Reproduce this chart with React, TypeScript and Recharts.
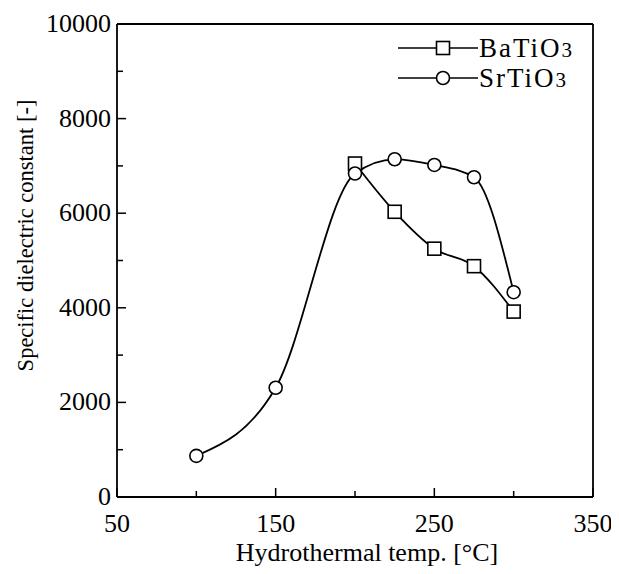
import React from 'react';
import { LineChart, Line, XAxis, YAxis, ReferenceLine } from 'recharts';

// Hydrothermal temperatures [°C]
const temps = [100, 150, 200, 225, 250, 275, 300];
// SrTiO3 dielectric constant, one per temperature
const srValues = [870, 2310, 6840, 7140, 7020, 6760, 4330];
// BaTiO3 only measured from 200 °C up
const baTemps = [200, 225, 250, 275, 300];
const baValues = [7050, 6030, 5250, 4880, 3920];

const xTicks = [50, 100, 150, 200, 250, 300, 350];
const xLabeled = [50, 150, 250, 350];
const yTicks = [0, 1000, 2000, 3000, 4000, 5000, 6000, 7000, 8000, 9000, 10000];

const series = [
  { key: 'ba', name: 'BaTiO', sub: '3', marker: 'square' },
  { key: 'sr', name: 'SrTiO', sub: '3', marker: 'circle' },
];

const data = temps.map((t, i) => {
  const bi = baTemps.indexOf(t);
  return { t, sr: srValues[i], ba: bi >= 0 ? baValues[bi] : null };
});

const FONT = '"Liberation Serif", "DejaVu Serif", serif';
const INK = '#000';

const XTick = ({ x, y, payload }: any) => {
  const major = xLabeled.includes(payload.value);
  return (
    <g>
      <line x1={x} y1={y} x2={x} y2={y - (major ? 9 : 6)} stroke={INK} strokeWidth={1.5} />
      {major && (
        <text x={x} y={y + 35} textAnchor="middle" fontFamily={FONT} fontSize={26} fill={INK}>
          {payload.value}
        </text>
      )}
    </g>
  );
};

const YTick = ({ x, y, payload }: any) => {
  const major = payload.value % 2000 === 0;
  return (
    <g>
      <line x1={x} y1={y} x2={x + (major ? 9 : 6)} y2={y} stroke={INK} strokeWidth={1.5} />
      {major && (
        <text x={x - 6} y={y + 8} textAnchor="end" fontFamily={FONT} fontSize={26} fill={INK}>
          {payload.value}
        </text>
      )}
    </g>
  );
};

const SquareDot = ({ cx, cy, index }: any) => {
  if (cy == null || cx == null) return <g key={`sq-${index}`} />;
  return (
    <rect key={`sq-${index}`} x={cx - 6.5} y={cy - 6.5} width={13} height={13} fill="#fff" stroke={INK} strokeWidth={1.6} />
  );
};

const YLabel = ({ viewBox }: any) => {
  const cx = viewBox.x + 25;
  const cy = viewBox.y + viewBox.height / 2 - 25;
  return (
    <text x={cx} y={cy} transform={`rotate(-90 ${cx} ${cy})`} textAnchor="middle" dominantBaseline="central" fontFamily={FONT} fontSize={22.5} fill={INK}>
      Specific dielectric constant [-]
    </text>
  );
};

const XLabel = ({ viewBox }: any) => {
  const cx = viewBox.x + viewBox.width / 2 + 12;
  const cy = viewBox.y + 64;
  return (
    <text x={cx} y={cy} textAnchor="middle" fontFamily={FONT} fontSize={26} fill={INK}>
      Hydrothermal temp. [°C]
    </text>
  );
};

const LegendBox = () => (
  <svg width={220} height={70} style={{ position: 'absolute', left: 390, top: 30 }}>
    {series.map((s, i) => {
      const y = 18 + i * 30;
      return (
        <g key={s.key}>
          <line x1={8} y1={y} x2={88} y2={y} stroke={INK} strokeWidth={1.5} />
          {s.marker === 'square' ? (
            <rect x={46.5} y={y - 6.5} width={13} height={13} fill="#fff" stroke={INK} strokeWidth={1.6} />
          ) : (
            <circle cx={53} cy={y} r={6.5} fill="#fff" stroke={INK} strokeWidth={1.6} />
          )}
          <text x={89} y={y + 9} fontFamily={FONT} fontSize={27} letterSpacing={2} fill={INK}>
            {s.name}
            <tspan fontSize={21}>{s.sub}</tspan>
          </text>
        </g>
      );
    })}
  </svg>
);

export default function App() {
  return (
    <div style={{ position: 'relative', margin: -8, width: 619, height: 574, background: '#fff' }}>
      <LineChart width={619} height={574} data={data} margin={{ top: 24, right: 26, bottom: 0, left: 0 }}>
        <XAxis
          dataKey="t"
          type="number"
          domain={[50, 350]}
          ticks={xTicks}
          interval={0}
          height={77}
          tickSize={0}
          tickMargin={0}
          tickLine={false}
          tick={<XTick />}
          axisLine={{ stroke: INK, strokeWidth: 1.8 }}
          label={<XLabel />}
        />
        <YAxis
          type="number"
          domain={[0, 10000]}
          ticks={yTicks}
          interval={0}
          width={117}
          tickSize={0}
          tickMargin={0}
          tickLine={false}
          tick={<YTick />}
          axisLine={{ stroke: INK, strokeWidth: 1.8 }}
          label={<YLabel />}
        />
        <ReferenceLine y={10000} stroke={INK} strokeWidth={1.8} />
        <ReferenceLine x={350} stroke={INK} strokeWidth={1.8} />
        <Line
          dataKey="ba"
          type="monotone"
          stroke={INK}
          strokeWidth={1.8}
          dot={<SquareDot />}
          activeDot={false}
          isAnimationActive={false}
        />
        <Line
          dataKey="sr"
          type="monotone"
          stroke={INK}
          strokeWidth={1.8}
          dot={{ r: 6.5, fill: '#fff', stroke: INK, strokeWidth: 1.6 }}
          activeDot={false}
          isAnimationActive={false}
        />
      </LineChart>
      <LegendBox />
    </div>
  );
}
